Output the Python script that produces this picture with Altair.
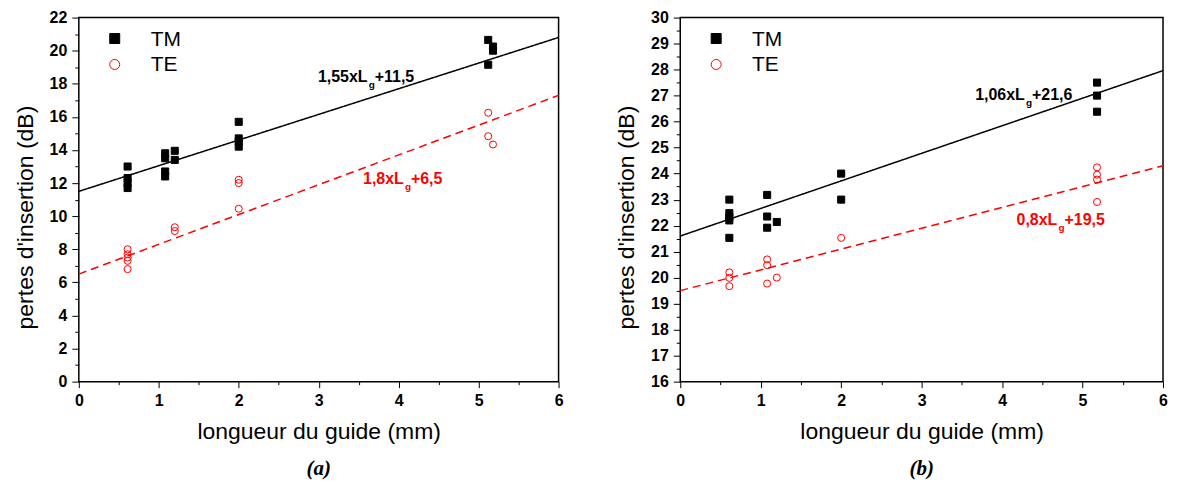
import altair as alt
import pandas as pd

# ---------------- data ----------------
series_names = ["TM", "TE"]
series_colors = ["black", "red"]
series_fills = ["black", "transparent"]
series_shapes = ["square", "circle"]

# panel (a)
a_tm_x = [0.61, 0.61, 0.61, 0.61, 1.08, 1.08, 1.08, 1.08, 1.2, 1.2, 2.0, 2.0, 2.0, 2.0, 5.12, 5.12, 5.18, 5.18]
a_tm_y = [13.0, 12.3, 12.0, 11.7, 13.8, 13.5, 12.7, 12.4, 13.95, 13.4, 15.7, 14.7, 14.5, 14.2, 20.65, 19.15, 20.25, 20.0]
a_te_x = [0.61, 0.61, 0.61, 0.61, 0.61, 1.2, 1.2, 2.0, 2.0, 2.0, 5.12, 5.12, 5.18]
a_te_y = [8.0, 7.7, 7.5, 7.3, 6.8, 9.33, 9.1, 12.2, 12.0, 10.45, 16.25, 14.83, 14.33]
a_slopes = [1.55, 1.8]
a_intercepts = [11.5, 6.5]
a_eq_main = ["1,55xL", "1,8xL"]
a_eq_sub = ["g", "g"]
a_eq_tail = ["+11,5", "+6,5"]

# panel (b)
b_tm_x = [0.61, 0.61, 0.61, 0.61, 0.61, 1.08, 1.08, 1.08, 1.2, 2.0, 2.0, 5.18, 5.18, 5.18]
b_tm_y = [23.0, 22.48, 22.33, 22.2, 21.53, 23.18, 22.35, 21.92, 22.14, 24.0, 23.0, 27.5, 27.0, 26.38]
b_te_x = [0.61, 0.61, 0.61, 1.08, 1.08, 1.08, 1.2, 2.0, 5.18, 5.18, 5.18, 5.18]
b_te_y = [20.2, 19.99, 19.67, 20.7, 20.48, 19.77, 20.0, 21.53, 24.24, 23.96, 23.77, 22.91]
b_slopes = [1.06, 0.8]
b_intercepts = [21.6, 19.5]
b_eq_main = ["1,06xL", "0,8xL"]
b_eq_sub = ["g", "g"]
b_eq_tail = ["+21,6", "+19,5"]

line_x_ends = [0, 6]

FONT = "Liberation Sans"


def panel(tm_x, tm_y, te_x, te_y, slopes, intercepts, eq_main, eq_sub, eq_tail,
          eq_anchor, eq_width, ymin, ymax, ymajor, yminor, caption, width):
    x_vals = [i * 0.5 for i in range(13)]
    n_y = int(round((ymax - ymin) / yminor)) + 1
    y_vals = [ymin + i * yminor for i in range(n_y)]

    X = alt.X(
        "L:Q",
        scale=alt.Scale(domain=[0, 6], nice=False, zero=False),
        axis=alt.Axis(
            values=x_vals,
            labelExpr="datum.value % 1 == 0 ? format(datum.value, 'd') : ''",
            tickSize={"condition": {"test": "datum.value % 1 != 0", "value": 3}, "value": 6},
            title="longueur du guide (mm)",
            labelPadding=5,
            titlePadding=12,
        ),
    )
    Y = alt.Y(
        "P:Q",
        scale=alt.Scale(domain=[ymin, ymax], nice=False, zero=False),
        axis=alt.Axis(
            values=y_vals,
            labelExpr=f"datum.value % {ymajor} == 0 ? format(datum.value, 'd') : ''",
            tickSize={"condition": {"test": f"datum.value % {ymajor} != 0", "value": 4}, "value": 7},
            title="pertes d'insertion (dB)",
            labelPadding=5,
            titlePadding=12,
            titleY=200,
        ),
    )

    pts = pd.DataFrame({
        "L": tm_x + te_x,
        "P": tm_y + te_y,
        "mode": ["TM"] * len(tm_x) + ["TE"] * len(te_x),
    })
    points = alt.Chart(pts).mark_point(size=50, strokeWidth=1, opacity=1).encode(
        x=X, y=Y,
        shape=alt.Shape("mode:N", scale=alt.Scale(domain=series_names, range=series_shapes), legend=None),
        fill=alt.Fill("mode:N", scale=alt.Scale(domain=series_names, range=series_fills), legend=None),
        stroke=alt.Stroke("mode:N", scale=alt.Scale(domain=series_names, range=series_colors), legend=None),
    )

    rows = []
    for name, s, b in zip(series_names, slopes, intercepts):
        for xe in line_x_ends:
            rows.append({"mode": name, "slope": s, "intercept": b, "L": xe})
    ldf = pd.DataFrame(rows)
    lines = alt.Chart(ldf).transform_calculate(
        P="datum.slope * datum.L + datum.intercept"
    ).mark_line(strokeWidth=1.5).encode(
        x=X, y=Y,
        color=alt.Color("mode:N", scale=alt.Scale(domain=series_names, range=series_colors), legend=None),
        strokeDash=alt.StrokeDash("mode:N", scale=alt.Scale(domain=series_names, range=[[1, 0], [8, 5]]), legend=None),
        detail="mode:N",
    )

    layers = [lines, points]

    # legend (drawn inside the plot area, top-left)
    for i, name in enumerate(series_names):
        ldat = pd.DataFrame({"t": [name]})
        layers.append(
            alt.Chart(ldat).mark_point(
                shape=series_shapes[i], size=100, strokeWidth=1, opacity=1,
                fill=series_fills[i], stroke=series_colors[i],
            ).encode(x=alt.value(36), y=alt.value(21 + 26 * i))
        )
        layers.append(
            alt.Chart(ldat).mark_text(
                align="left", baseline="middle", font=FONT, fontSize=21, color="black",
            ).encode(x=alt.value(72), y=alt.value(22 + 26 * i), text="t:N")
        )

    for i in range(len(eq_main)):
        ax, ay = eq_anchor[i]
        w = eq_width[i]
        col = series_colors[i]
        parts = [(eq_main[i], 16, 0, 0), (eq_sub[i], 10, w + 1, 6), (eq_tail[i], 16, w + 7, 0)]
        for txt, fs, dx, dy in parts:
            tdf = pd.DataFrame({"L": [ax], "P": [ay], "t": [txt]})
            layers.append(
                alt.Chart(tdf).mark_text(
                    align="left", baseline="alphabetic", font=FONT, fontWeight="bold",
                    fontSize=fs, color=col, dx=dx, dy=dy,
                ).encode(x=X, y=Y, text="t:N")
            )

    return alt.layer(*layers).properties(
        width=width, height=365,
        title=alt.TitleParams(
            text=caption, orient="bottom", anchor="middle", font="Liberation Serif",
            fontSize=21, fontStyle="italic", fontWeight="bold", color="black", offset=15,
        ),
    )


left = panel(a_tm_x, a_tm_y, a_te_x, a_te_y, a_slopes, a_intercepts,
             a_eq_main, a_eq_sub, a_eq_tail,
             [(2.99, 18.08), (3.555, 11.93)], [50, 41],
             0, 22, 2, 1, "(a)", 481)
right = panel(b_tm_x, b_tm_y, b_te_x, b_te_y, b_slopes, b_intercepts,
              b_eq_main, b_eq_sub, b_eq_tail,
              [(3.665, 26.82), (4.18, 22.02)], [50, 41],
              16, 30, 1, 0.5, "(b)", 484)

chart = alt.hconcat(left, right, spacing=50).resolve_scale(
    x="independent", y="independent", shape="independent", fill="independent",
    stroke="independent", color="independent", strokeDash="independent",
).properties(
    padding={"left": 5, "top": 0, "right": 0, "bottom": 0},
    background="white",
).configure_view(
    stroke="black", strokeWidth=1.5,
).configure_axis(
    labelFont=FONT, labelFontWeight="bold", labelFontSize=16, labelColor="black",
    titleFont=FONT, titleFontWeight="normal", titleFontSize=23, titleColor="black",
    tickColor="black", tickWidth=1, domain=False, grid=False,
    labelOverlap=False, labelFlush=False,
)

chart.save("out.html", embed_options={"renderer": "svg", "actions": False})
